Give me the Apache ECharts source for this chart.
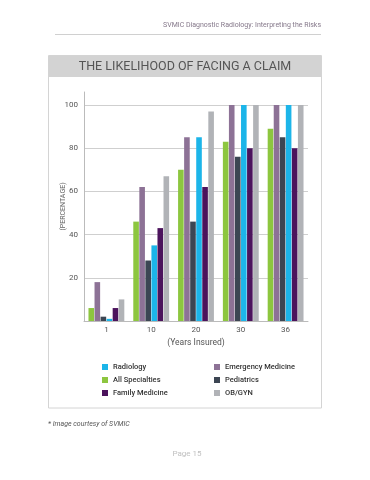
<!DOCTYPE html>
<html>
<head>
<meta charset="utf-8">
<script src="https://cdn.jsdelivr.net/npm/echarts@6/dist/echarts.min.js"></script>
<style>
html,body{margin:0;padding:0;background:#fff;}
#chart{width:370px;height:480px;}
</style>
</head>
<body>
<div id="chart"></div>
<script>
var categories = ['1', '10', '20', '30', '36'];
var allSpecialties = [6, 46, 70, 83, 89];
var emergencyMedicine = [18, 62, 85, 100, 100];
var pediatrics = [2, 28, 46, 76, 85];
var radiology = [1, 35, 85, 100, 100];
var familyMedicine = [6, 43, 62, 80, 80];
var obgyn = [10, 67, 97, 100, 100];
var yTicks = [0, 20, 40, 60, 80, 100];

var seriesDefs = [
  {name: 'All Specialties', data: allSpecialties, color: '#8dc63f'},
  {name: 'Emergency Medicine', data: emergencyMedicine, color: '#8d7296'},
  {name: 'Pediatrics', data: pediatrics, color: '#3c4653'},
  {name: 'Radiology', data: radiology, color: '#1cb5e9'},
  {name: 'Family Medicine', data: familyMedicine, color: '#4b135c'},
  {name: 'OB/GYN', data: obgyn, color: '#b1b3b7'}
];

var FONT = 'Roboto, "Liberation Sans", sans-serif';
var chart = echarts.init(document.getElementById('chart'), null, {renderer: 'canvas'});

var legendText = {fontSize: 7.5, color: '#333', fontWeight: 500, fontFamily: FONT};

chart.setOption({
  animation: false,
  backgroundColor: '#fff',
  textStyle: {fontFamily: FONT},
  graphic: [
    {type: 'line', shape: {x1: 55, y1: 34.5, x2: 321, y2: 34.5}, style: {stroke: '#d0d0d0', lineWidth: 1}, z: 0},
    {type: 'rect', shape: {x: 48.5, y: 55.5, width: 273, height: 352.5}, style: {fill: '#fff', stroke: '#d4d4d4', lineWidth: 1}, z: -1},
    {type: 'rect', shape: {x: 49, y: 56, width: 272, height: 21}, style: {fill: '#d3d3d3'}, z: 0},
    {type: 'text', x: 321, y: 25, style: {text: 'SVMIC Diagnostic Radiology: Interpreting the Risks', fill: '#85788a', fontSize: 7, fontFamily: FONT, align: 'right', verticalAlign: 'middle'}},
    {type: 'text', x: 185, y: 66.5, style: {text: 'THE LIKELIHOOD OF FACING A CLAIM', fill: '#555', fontSize: 12.5, fontFamily: FONT, align: 'center', verticalAlign: 'middle'}},
    {type: 'text', x: 48, y: 424, style: {text: '* Image courtesy of SVMIC', fill: '#555', fontSize: 7, fontStyle: 'italic', fontFamily: FONT, align: 'left', verticalAlign: 'middle'}},
    {type: 'text', x: 187, y: 454, style: {text: 'Page 15', fill: '#c0c0c0', fontSize: 8, fontFamily: FONT, align: 'center', verticalAlign: 'middle'}}
  ],
  legend: [
    {orient: 'vertical', left: 97, top: 358, itemWidth: 6, itemHeight: 6, itemGap: 5, icon: 'rect',
     data: ['Radiology', 'All Specialties', 'Family Medicine'], textStyle: legendText},
    {orient: 'vertical', left: 209, top: 358, itemWidth: 6, itemHeight: 6, itemGap: 5, icon: 'rect',
     data: ['Emergency Medicine', 'Pediatrics', 'OB/GYN'], textStyle: legendText}
  ],
  grid: {left: 84, right: 62, top: 92, bottom: 159, containLabel: false},
  xAxis: {
    type: 'category',
    data: categories,
    name: '(Years Insured)',
    nameLocation: 'middle',
    nameGap: 17,
    nameTextStyle: {fontSize: 8.5, color: '#555', fontFamily: FONT},
    axisLine: {lineStyle: {color: '#bbb'}},
    axisTick: {show: false},
    axisLabel: {fontSize: 8, color: '#555', margin: 5, fontFamily: FONT}
  },
  yAxis: {
    type: 'value',
    min: 0,
    max: 106,
    interval: 20,
    name: '(PERCENTAGE)',
    nameLocation: 'middle',
    nameGap: 17,
    nameMoveOverlap: false,
    nameTextStyle: {fontSize: 7, color: '#666', fontFamily: FONT},
    axisLine: {show: true, lineStyle: {color: '#bbb'}},
    axisTick: {show: false},
    axisLabel: {fontSize: 8, color: '#555', margin: 6, showMaxLabel: false, fontFamily: FONT,
      formatter: function (v) { return yTicks.indexOf(v) >= 0 && v !== 0 ? String(v) : ''; }},
    splitLine: {show: true, showMaxLine: false, lineStyle: {color: '#cfcfcf'}}
  },
  series: seriesDefs.map(function (s) {
    return {
      name: s.name, type: 'bar', data: s.data,
      itemStyle: {color: s.color},
      barGap: '8%', barCategoryGap: '20%'
    };
  })
});
</script>
</body>
</html>
